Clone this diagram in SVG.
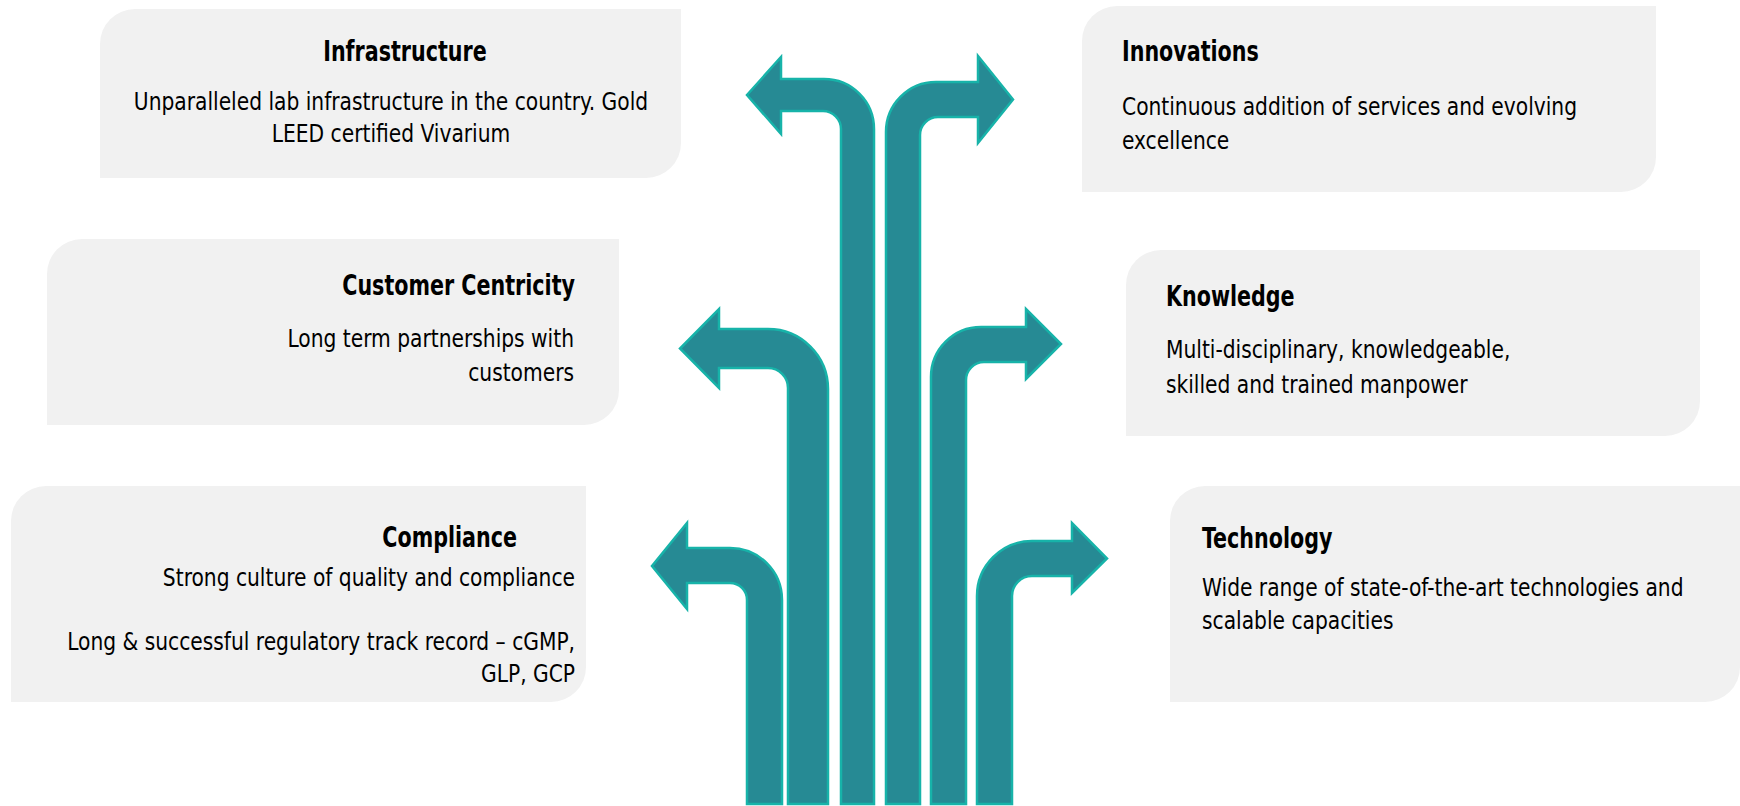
<svg xmlns="http://www.w3.org/2000/svg" width="1740" height="806" viewBox="0 0 1740 806">
<style>
.box{fill:#f1f1f1}
.t{font-family:"DejaVu Sans Condensed","Liberation Sans Narrow","Liberation Sans",sans-serif;font-weight:bold;font-size:28px;fill:#000}
.b{font-family:"DejaVu Sans Condensed","Liberation Sans Narrow","Liberation Sans",sans-serif;font-size:25px;fill:#000}
.arrow{fill:#268a94;stroke:#17b3a9;stroke-width:2.5;stroke-linejoin:miter}
</style>
<rect width="1740" height="806" fill="#ffffff"/>
<g id="infrastructure">
<path class="box" d="M135 9 H681 V143 A35 35 0 0 1 646 178 H100 V44 A35 35 0 0 1 135 9 Z"/>
<text class="t" transform="translate(405 61) scale(0.82 1)" text-anchor="middle">Infrastructure</text>
<text class="b" transform="translate(391 110) scale(0.9 1)" text-anchor="middle">Unparalleled lab infrastructure in the country. Gold</text>
<text class="b" transform="translate(391 142) scale(0.9 1)" text-anchor="middle">LEED certified Vivarium</text>
</g>
<g id="innovations">
<path class="box" d="M1117 6 H1656 V157 A35 35 0 0 1 1621 192 H1082 V41 A35 35 0 0 1 1117 6 Z"/>
<text class="t" transform="translate(1122 61) scale(0.82 1)">Innovations</text>
<text class="b" transform="translate(1122 115) scale(0.9 1)">Continuous addition of services and evolving</text>
<text class="b" transform="translate(1122 149) scale(0.9 1)">excellence</text>
</g>
<g id="customer-centricity">
<path class="box" d="M82 239 H619 V390 A35 35 0 0 1 584 425 H47 V274 A35 35 0 0 1 82 239 Z"/>
<text class="t" transform="translate(575 295) scale(0.82 1)" text-anchor="end">Customer Centricity</text>
<text class="b" transform="translate(574 347) scale(0.9 1)" text-anchor="end">Long term partnerships with</text>
<text class="b" transform="translate(574 381) scale(0.9 1)" text-anchor="end">customers</text>
</g>
<g id="knowledge">
<path class="box" d="M1161 250 H1700 V401 A35 35 0 0 1 1665 436 H1126 V285 A35 35 0 0 1 1161 250 Z"/>
<text class="t" transform="translate(1166 306) scale(0.82 1)">Knowledge</text>
<text class="b" transform="translate(1166 358) scale(0.9 1)">Multi-disciplinary, knowledgeable,</text>
<text class="b" transform="translate(1166 393) scale(0.9 1)">skilled and trained manpower</text>
</g>
<g id="compliance">
<path class="box" d="M46 486 H586 V667 A35 35 0 0 1 551 702 H11 V521 A35 35 0 0 1 46 486 Z"/>
<text class="t" transform="translate(517 547) scale(0.82 1)" text-anchor="end">Compliance</text>
<text class="b" transform="translate(575 586) scale(0.9 1)" text-anchor="end">Strong culture of quality and compliance</text>
<text class="b" transform="translate(575 650) scale(0.9 1)" text-anchor="end">Long &amp; successful regulatory track record – cGMP,</text>
<text class="b" transform="translate(575 682) scale(0.9 1)" text-anchor="end">GLP, GCP</text>
</g>
<g id="technology">
<path class="box" d="M1205 486 H1740 V667 A35 35 0 0 1 1705 702 H1170 V521 A35 35 0 0 1 1205 486 Z"/>
<text class="t" transform="translate(1202 548) scale(0.82 1)">Technology</text>
<text class="b" transform="translate(1202 596) scale(0.9 1)">Wide range of state-of-the-art technologies and</text>
<text class="b" transform="translate(1202 629) scale(0.9 1)">scalable capacities</text>
</g>
<g id="connectors">
<path class="arrow" d="M841 804 L841 129 A18 18 0 0 0 823 111 L781 111 L781 134 L747 95 L781 57 L781 79 L824 79 A50 50 0 0 1 874 129 L874 804 Z"/>
<path class="arrow" d="M920 804 L920 135 A18 18 0 0 1 938 117 L978 117 L978 143 L1013 99.5 L978 56 L978 82 L936 82 A50 50 0 0 0 886 132 L886 804 Z"/>
<path class="arrow" d="M788 804 L788 388 A20 20 0 0 0 768 368 L719 368 L719 388 L680 348.5 L719 309 L719 329 L768 329 A60 60 0 0 1 828 389 L828 804 Z"/>
<path class="arrow" d="M966 804 L966 380 A18 18 0 0 1 984 362 L1026 362 L1026 379 L1061 344 L1026 309 L1026 327 L981 327 A50 50 0 0 0 931 377 L931 804 Z"/>
<path class="arrow" d="M747 804 L747 600 A17 17 0 0 0 730 583 L687 583 L687 609 L652 566 L687 523 L687 548 L730 548 A52 52 0 0 1 782 600 L782 804 Z"/>
<path class="arrow" d="M1012 804 L1012 596 A20 20 0 0 1 1032 576 L1072 576 L1072 593 L1107 558.5 L1072 523 L1072 541 L1032 541 A55 55 0 0 0 977 596 L977 804 Z"/>
</g>
</svg>
